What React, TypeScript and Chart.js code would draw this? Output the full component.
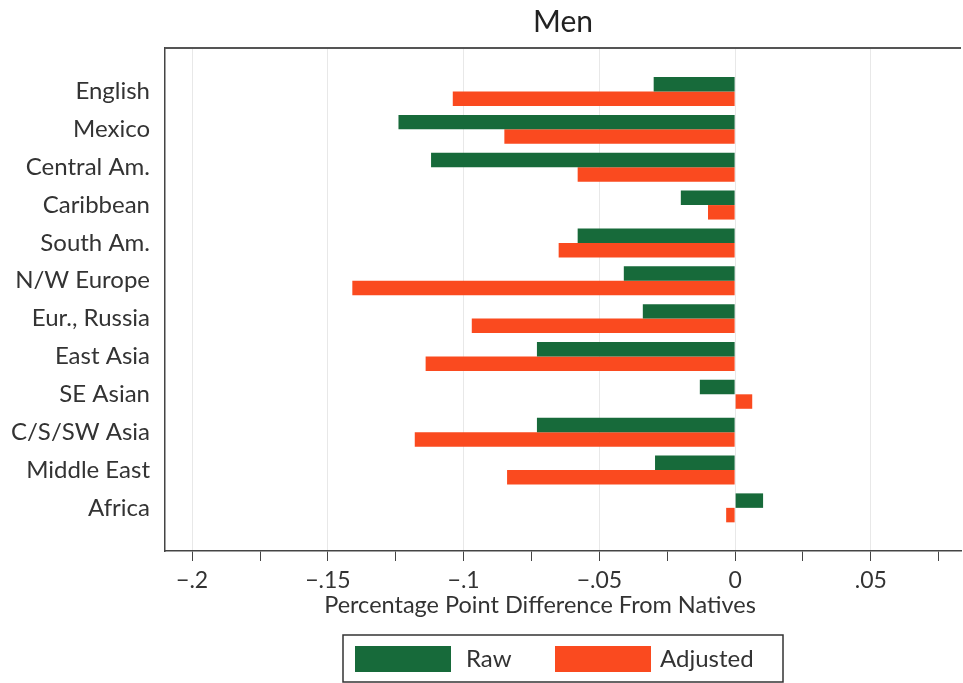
import { useEffect, useRef } from 'react';
import { Chart, registerables } from 'chart.js';

Chart.register(...registerables);

const categories = [
  'English',
  'Mexico',
  'Central Am.',
  'Caribbean',
  'South Am.',
  'N/W Europe',
  'Eur., Russia',
  'East Asia',
  'SE Asian',
  'C/S/SW Asia',
  'Middle East',
  'Africa',
];

const rawValues = [-0.030, -0.124, -0.112, -0.020, -0.058, -0.041, -0.034, -0.073, -0.013, -0.073, -0.0295, 0.0103];
const adjustedValues = [-0.104, -0.085, -0.058, -0.010, -0.065, -0.141, -0.097, -0.114, 0.0063, -0.118, -0.084, -0.0033];

const xTickValues = [-0.2, -0.175, -0.15, -0.125, -0.1, -0.075, -0.05, -0.025, 0, 0.025, 0.05, 0.075];
const xTickLabels = ['\u2212.2', '', '\u2212.15', '', '\u2212.1', '', '\u2212.05', '', '0', '', '.05', ''];

const xAxisTitle = 'Percentage Point Difference From Natives';

const GREEN = '#176a3a';
const RED = '#fa4a1f';
const TEXT = '#333333';
const FONT = 'Lato, "Open Sans", sans-serif';

const framePlugin = {
  id: 'frameTop',
  afterDraw(chart: any) {
    const { ctx, chartArea } = chart;
    ctx.save();
    ctx.strokeStyle = '#555555';
    ctx.lineWidth = 2;
    ctx.beginPath();
    ctx.moveTo(chartArea.left, chartArea.top);
    ctx.lineTo(chartArea.right, chartArea.top);
    ctx.stroke();
    // axis title (offset left of the plot centre, as in the original)
    ctx.fillStyle = TEXT;
    ctx.font = `23.5px ${FONT}`;
    ctx.textAlign = 'center';
    ctx.textBaseline = 'middle';
    ctx.fillText(xAxisTitle, chartArea.left + 375, chartArea.bottom + 54);
    ctx.restore();
  },
};

const legendBoxPlugin = {
  id: 'legendBox',
  afterDraw(chart: any) {
    const { ctx, chartArea } = chart;
    const w = 440;
    const h = 47;
    const cx = (chartArea.left + chartArea.right) / 2;
    const left = cx - w / 2;
    const top = chart.height - 48;
    ctx.save();
    ctx.strokeStyle = '#333333';
    ctx.lineWidth = 1.5;
    ctx.strokeRect(left, top, w, h);
    const swatchX = [12, 212];
    const textX = [123, 317];
    chart.data.datasets.forEach((ds: any, i: number) => {
      ctx.fillStyle = ds.backgroundColor;
      ctx.fillRect(left + swatchX[i], top + 11, 96, 26);
      ctx.fillStyle = TEXT;
      ctx.font = `24px ${FONT}`;
      ctx.textBaseline = 'middle';
      ctx.textAlign = 'left';
      ctx.fillText(ds.label, left + textX[i], top + 24);
    });
    ctx.restore();
  },
};

export default function App() {
  const canvasRef = useRef<HTMLCanvasElement | null>(null);

  useEffect(() => {
    if (!canvasRef.current) return;
    const chart = new Chart(canvasRef.current, {
      type: 'bar',
      data: {
        datasets: [
          {
            label: 'Raw',
            data: rawValues.map((v, i) => ({ x: v, y: i })),
            backgroundColor: GREEN,
            borderWidth: 0,
          },
          {
            label: 'Adjusted',
            data: adjustedValues.map((v, i) => ({ x: v, y: i })),
            backgroundColor: RED,
            borderWidth: 0,
          },
        ],
      },
      options: {
        indexAxis: 'y',
        animation: false,
        responsive: true,
        maintainAspectRatio: false,
        categoryPercentage: 0.765,
        barPercentage: 1,
        layout: { padding: { left: 0, right: 2, top: 0, bottom: 49 } },
        plugins: {
          legend: { display: false },
          tooltip: { enabled: false },
          title: {
            display: true,
            text: 'Men',
            fullSize: false,
            color: '#222222',
            font: { family: FONT, size: 30, weight: 'normal' },
            padding: { top: 4, bottom: 8 },
          },
        },
        scales: {
          x: {
            type: 'linear',
            position: 'bottom',
            min: -0.21,
            max: 0.0832,
            afterBuildTicks: (scale: any) => {
              scale.ticks = xTickValues.map((v) => ({ value: v }));
            },
            afterFit: (scale: any) => {
              scale.height = 83;
            },
            ticks: {
              autoSkip: false,
              maxRotation: 0,
              padding: 6,
              color: TEXT,
              font: { family: FONT, size: 23 },
              callback: (_v: any, i: number) => xTickLabels[i],
            },
            grid: {
              color: (c: any) => (c.index !== undefined && xTickLabels[c.index] ? '#e8e8e8' : 'rgba(0,0,0,0)'),
              tickColor: '#444444',
              tickLength: 10,
              lineWidth: 1,
            },
            border: { display: true, color: '#444444', width: 1.5 },
          },
          y: {
            type: 'linear',
            reverse: true,
            offset: false,
            min: -1.15,
            max: 12.14,
            afterBuildTicks: (scale: any) => {
              scale.ticks = categories.map((_c, i) => ({ value: i }));
            },
            afterFit: (scale: any) => {
              scale.width = 165;
            },
            ticks: {
              autoSkip: false,
              padding: 15,
              color: TEXT,
              font: { family: FONT, size: 24 },
              callback: (v: any) => categories[v as number] ?? '',
            },
            grid: { display: false, drawTicks: false },
            border: { display: true, color: '#444444', width: 1.5 },
          },
        },
      },
      plugins: [framePlugin, legendBoxPlugin],
    } as any);
    return () => chart.destroy();
  }, []);

  return (
    <div style={{ position: 'absolute', left: 0, top: 0, width: 963, height: 683 }}>
      <canvas ref={canvasRef} />
    </div>
  );
}
